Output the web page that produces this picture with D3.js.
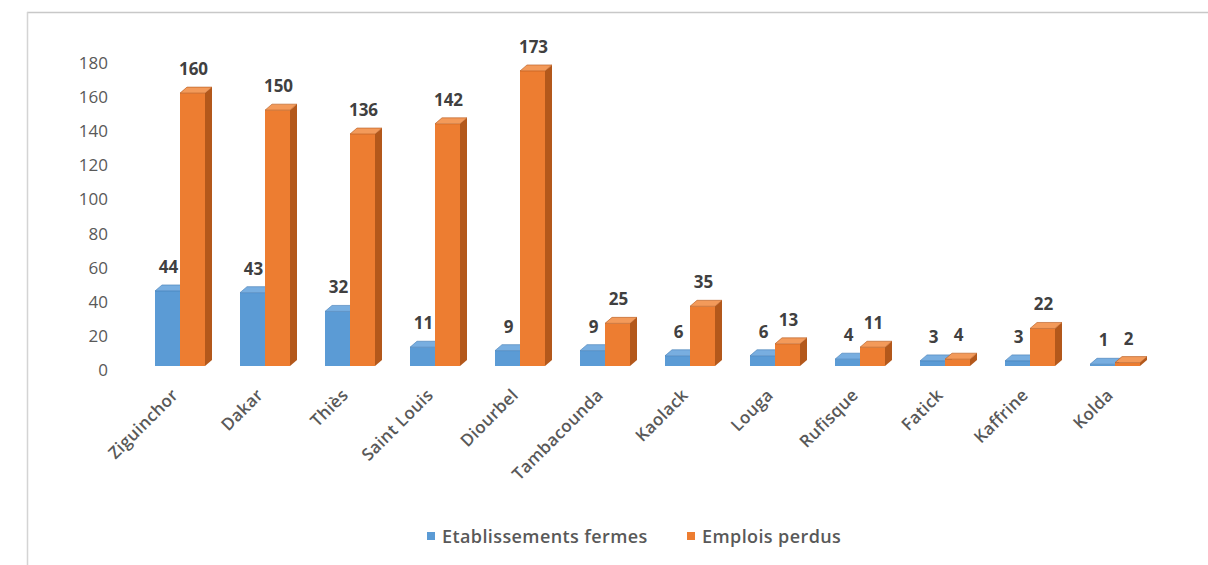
<!DOCTYPE html>
<html lang="fr">
<head>
<meta charset="utf-8">
<script src="https://d3js.org/d3.v7.min.js"></script>
<style>
    body { margin: 0; background: #fff; }
    svg { display: block; }
    .tick-label { font-family: "Open Sans", sans-serif; font-size: 17px; fill: #595959; }
    .cat-label { font-family: "Open Sans", sans-serif; font-size: 17px; font-weight: 600; fill: #595959; letter-spacing: 0.3px; }
    .val-label { font-family: "Open Sans", sans-serif; font-size: 17px; font-weight: 700; fill: #404040; }
    .legend-text { font-family: "Open Sans", sans-serif; font-size: 18px; font-weight: 600; fill: #595959; letter-spacing: 0.4px; }
</style>
</head>
<body>
<svg id="chart" width="1208" height="565"></svg>
<script>
    // values
    const regions = ["Ziguinchor", "Dakar", "Thiès", "Saint Louis", "Diourbel", "Tambacounda",
        "Kaolack", "Louga", "Rufisque", "Fatick", "Kaffrine", "Kolda"];
    const etablissements = [44, 43, 32, 11, 9, 9, 6, 6, 4, 3, 3, 1];
    const emplois = [160, 150, 136, 142, 173, 25, 35, 13, 11, 4, 22, 2];
    const yTicks = [0, 20, 40, 60, 80, 100, 120, 140, 160, 180];
    const seriesNames = ["Etablissements fermes", "Emplois perdus"];

    const colors = {
        "Etablissements fermes": { front: "#5b9bd5", top: "#78aee0", side: "#3f7bb3" },
        "Emplois perdus": { front: "#ed7d31", top: "#f39a5a", side: "#b3581b" }
    };

    const svg = d3.select("#chart");

    // frame around the picture
    svg.append("line").attr("x1", 27).attr("x2", 1208).attr("y1", 12.5).attr("y2", 12.5)
        .attr("stroke", "#c8c8c8").attr("stroke-width", 1.5);
    svg.append("line").attr("x1", 27.5).attr("x2", 27.5).attr("y1", 12).attr("y2", 565)
        .attr("stroke", "#d4d4d4").attr("stroke-width", 1.5);

    const y = d3.scaleLinear().domain([0, 180]).range([370, 63]);
    const x = d3.scaleBand().domain(regions).range([137.5, 1157.5]);
    const xs = d3.scaleBand().domain(seriesNames).range([17.5, 67.5]);

    const depthX = 7, depthY = 6, lift = 4;

    // y axis labels
    svg.append("g").selectAll("text")
        .data(yTicks)
        .enter().append("text")
        .attr("class", "tick-label")
        .attr("x", 108)
        .attr("y", d => y(d))
        .attr("dy", "0.35em")
        .attr("text-anchor", "end")
        .text(d => d);

    const rows = regions.map((r, i) => ({
        region: r,
        values: [
            { name: seriesNames[0], value: etablissements[i] },
            { name: seriesNames[1], value: emplois[i] }
        ]
    }));

    const bars = svg.append("g");
    rows.forEach(row => {
        row.values.forEach(v => {
            const c = colors[v.name];
            const x0 = x(row.region) + xs(v.name);
            const x1 = x0 + xs.bandwidth();
            const yb = y(0) - lift;
            const yt = y(v.value) - lift;
            const g = bars.append("g");
            // side face
            g.append("path")
                .attr("d", `M${x1},${yt} L${x1 + depthX},${yt - depthY} L${x1 + depthX},${yb - depthY} L${x1},${yb} Z`)
                .attr("fill", c.side);
            // front face
            g.append("rect")
                .attr("x", x0).attr("y", yt)
                .attr("width", x1 - x0).attr("height", yb - yt)
                .attr("fill", c.front);
            // top face
            g.append("path")
                .attr("d", `M${x0},${yt} L${x1},${yt} L${x1 + depthX},${yt - depthY} L${x0 + depthX},${yt - depthY} Z`)
                .attr("fill", c.top)
                .attr("stroke", c.side).attr("stroke-width", 0.6);
        });
    });

    // value labels
    rows.forEach(row => {
        row.values.forEach(v => {
            svg.append("text")
                .attr("class", "val-label")
                .attr("x", x(row.region) + xs(v.name) + xs.bandwidth() / 2 + 1)
                .attr("y", y(v.value) - 22)
                .attr("text-anchor", "middle")
                .text(v.value);
        });
    });

    // category labels
    svg.append("g").selectAll("text")
        .data(regions)
        .enter().append("text")
        .attr("class", "cat-label")
        .attr("transform", d => `translate(${x(d) + x.bandwidth() / 2 - 5},${392}) rotate(-45)`)
        .attr("text-anchor", "end")
        .attr("dy", "0.35em")
        .text(d => d);

    // legend
    const legend = svg.append("g");
    const legendX = [427, 687];
    seriesNames.forEach((s, i) => {
        legend.append("rect")
            .attr("x", legendX[i]).attr("y", 532)
            .attr("width", 8).attr("height", 8)
            .attr("fill", colors[s].front);
        legend.append("text")
            .attr("class", "legend-text")
            .attr("x", legendX[i] + 15).attr("y", 543)
            .text(s);
    });
</script>
</body>
</html>
